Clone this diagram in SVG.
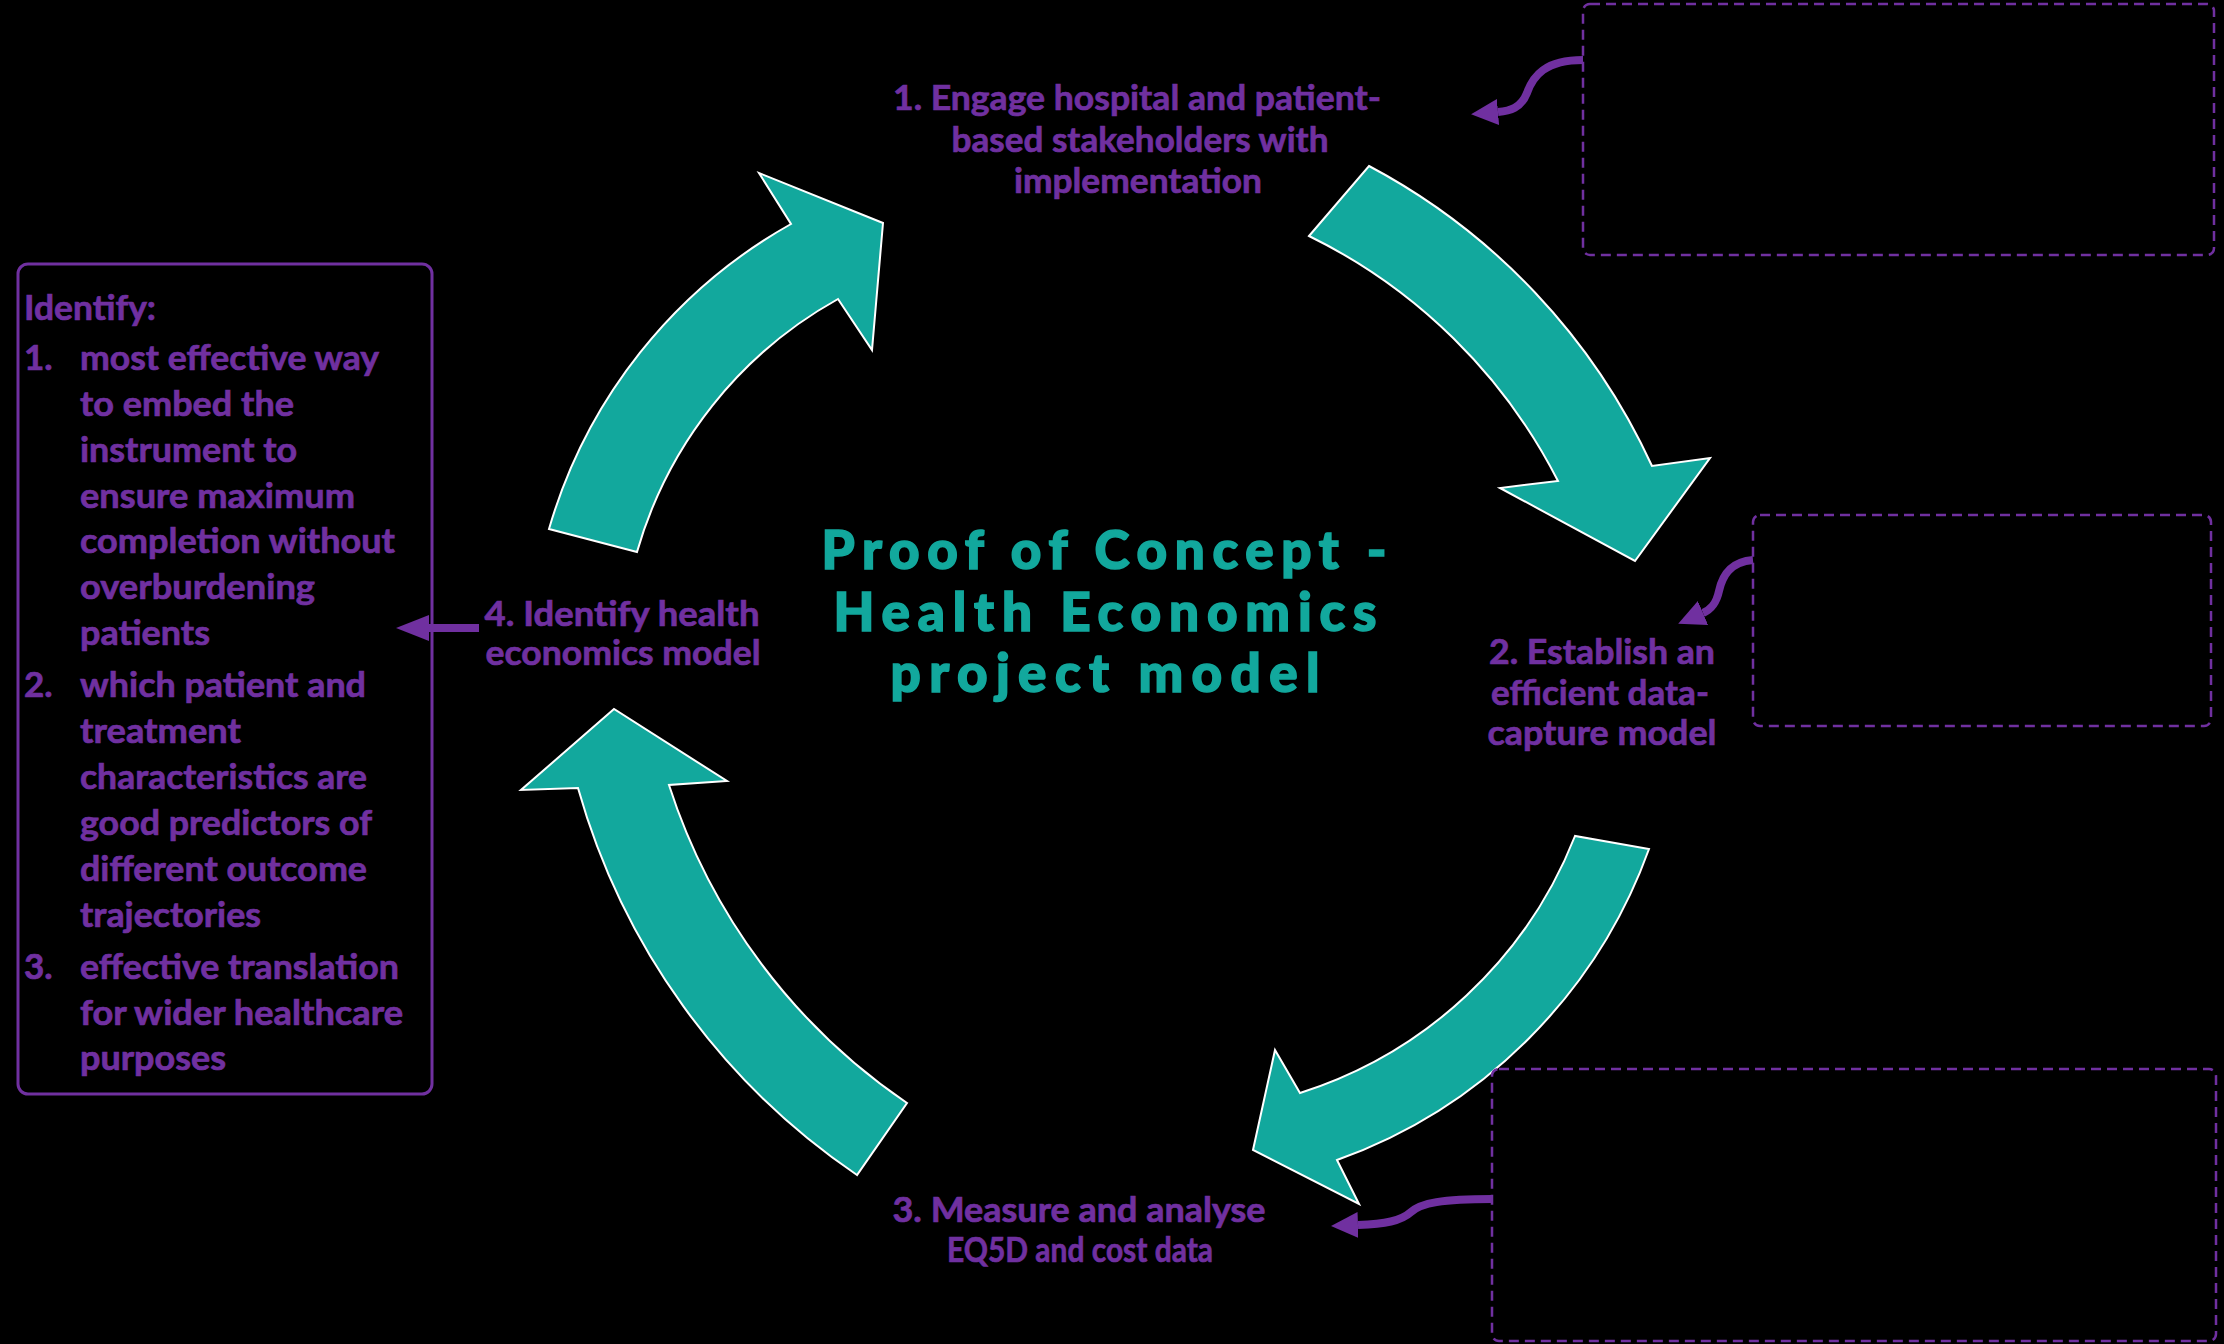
<svg xmlns="http://www.w3.org/2000/svg" width="2224" height="1344" viewBox="0 0 2224 1344">
<style>
.bg{fill:#000}
.lbl{font-family:Lato,"Liberation Sans",sans-serif;font-weight:700;font-size:35px;fill:#7030A0;stroke:#7030A0;stroke-width:0.7}
.title{font-family:Lato,"Liberation Sans",sans-serif;font-weight:900;font-size:53px;fill:#12A89D;stroke:#12A89D;stroke-width:1.6}
.ring{fill:#12A89D;stroke:#ffffff;stroke-width:2;stroke-linejoin:miter}
.dash{fill:none;stroke:#7030A0;stroke-width:2.5;stroke-dasharray:10 6}
.solid{fill:none;stroke:#7030A0;stroke-width:3}
.conn{fill:none;stroke:#7030A0;stroke-width:8}
</style>
<defs>
<marker id="head" markerUnits="userSpaceOnUse" markerWidth="28" markerHeight="26" refX="0" refY="13" orient="auto">
<path d="M0,0 L27,13 L0,26 z" fill="#7030A0"/>
</marker>
<marker id="headL" markerUnits="userSpaceOnUse" markerWidth="34" markerHeight="26" refX="0" refY="13" orient="auto">
<path d="M0,0 L33,13 L0,26 z" fill="#7030A0"/>
</marker>
</defs>
<rect class="bg" x="0" y="0" width="2224" height="1344"/>

<g id="arrow1">
<path class="ring" d="M549,529 A514,514 0 0 1 791,224 L759,173 L883,223 L872,350 L838,299 A423,423 0 0 0 637,552 Z"/>
</g>
<g id="arrow2">
<path class="ring" d="M1369,166 A643,643 0 0 1 1652,466 L1710,458 L1635,561 L1500,488 L1558,481 A552,552 0 0 0 1309,236 Z"/>
</g>
<g id="arrow3">
<path class="ring" d="M1649,849 A516,516 0 0 1 1337,1160 L1359,1204 L1253,1150 L1275,1050 L1300,1093 A438,438 0 0 0 1575,836 Z"/>
</g>
<g id="arrow4">
<path class="ring" d="M857,1175 A695,695 0 0 1 578,788 L521,790 L614,709 L727,781 L669,785 A610,610 0 0 0 907,1103 Z"/>
</g>

<g id="title">
<text class="title" text-anchor="middle" x="1104" y="569" textLength="565" lengthAdjust="spacing">Proof of Concept -</text>
<text class="title" text-anchor="middle" x="1105" y="631" textLength="543" lengthAdjust="spacing">Health Economics</text>
<text class="title" text-anchor="middle" x="1105" y="692" textLength="429" lengthAdjust="spacing">project model</text>
</g>

<g id="label1">
<text class="lbl" text-anchor="middle" x="1137" y="110" textLength="488" lengthAdjust="spacingAndGlyphs">1. Engage hospital and patient-</text>
<text class="lbl" text-anchor="middle" x="1140" y="152" textLength="377" lengthAdjust="spacingAndGlyphs">based stakeholders with</text>
<text class="lbl" text-anchor="middle" x="1138" y="193" textLength="248" lengthAdjust="spacingAndGlyphs">implementation</text>
</g>
<g id="label2">
<text class="lbl" text-anchor="middle" x="1602" y="664" textLength="226" lengthAdjust="spacingAndGlyphs">2. Establish an</text>
<text class="lbl" text-anchor="middle" x="1600" y="705" textLength="218" lengthAdjust="spacingAndGlyphs">efficient data-</text>
<text class="lbl" text-anchor="middle" x="1602" y="745" textLength="229" lengthAdjust="spacingAndGlyphs">capture model</text>
</g>
<g id="label3">
<text class="lbl" text-anchor="middle" x="1079" y="1222" textLength="373" lengthAdjust="spacingAndGlyphs">3. Measure and analyse</text>
<text class="lbl" text-anchor="middle" x="1080" y="1262" textLength="266" lengthAdjust="spacingAndGlyphs">EQ5D and cost data</text>
</g>
<g id="label4">
<text class="lbl" text-anchor="middle" x="622" y="626" textLength="275" lengthAdjust="spacingAndGlyphs">4. Identify health</text>
<text class="lbl" text-anchor="middle" x="623" y="665" textLength="275" lengthAdjust="spacingAndGlyphs">economics model</text>
</g>

<g id="box-identify">
<rect class="solid" x="18" y="264" width="414" height="830" rx="10" ry="10"/>
<text class="lbl" x="24" y="320" textLength="132" lengthAdjust="spacingAndGlyphs">Identify:</text>
<text class="lbl" x="24" y="370">1.</text>
<text class="lbl" x="80" y="370" textLength="299" lengthAdjust="spacingAndGlyphs">most effective way</text>
<text class="lbl" x="80" y="416" textLength="214" lengthAdjust="spacingAndGlyphs">to embed the</text>
<text class="lbl" x="80" y="462" textLength="217" lengthAdjust="spacingAndGlyphs">instrument to</text>
<text class="lbl" x="80" y="508" textLength="275" lengthAdjust="spacingAndGlyphs">ensure maximum</text>
<text class="lbl" x="80" y="553" textLength="315" lengthAdjust="spacingAndGlyphs">completion without</text>
<text class="lbl" x="80" y="599" textLength="235" lengthAdjust="spacingAndGlyphs">overburdening</text>
<text class="lbl" x="80" y="645" textLength="130" lengthAdjust="spacingAndGlyphs">patients</text>
<text class="lbl" x="24" y="697">2.</text>
<text class="lbl" x="80" y="697" textLength="286" lengthAdjust="spacingAndGlyphs">which patient and</text>
<text class="lbl" x="80" y="743" textLength="161" lengthAdjust="spacingAndGlyphs">treatment</text>
<text class="lbl" x="80" y="789" textLength="287" lengthAdjust="spacingAndGlyphs">characteristics are</text>
<text class="lbl" x="80" y="835" textLength="292" lengthAdjust="spacingAndGlyphs">good predictors of</text>
<text class="lbl" x="80" y="881" textLength="287" lengthAdjust="spacingAndGlyphs">different outcome</text>
<text class="lbl" x="80" y="927" textLength="181" lengthAdjust="spacingAndGlyphs">trajectories</text>
<text class="lbl" x="24" y="979">3.</text>
<text class="lbl" x="80" y="979" textLength="319" lengthAdjust="spacingAndGlyphs">effective translation</text>
<text class="lbl" x="80" y="1025" textLength="323" lengthAdjust="spacingAndGlyphs">for wider healthcare</text>
<text class="lbl" x="80" y="1070" textLength="146" lengthAdjust="spacingAndGlyphs">purposes</text>
</g>

<g id="box-top-right">
<rect class="dash" x="1583" y="4" width="631" height="251" rx="7" ry="7"/>
</g>
<g id="box-mid-right">
<rect class="dash" x="1753" y="515" width="458" height="211" rx="7" ry="7"/>
</g>
<g id="box-bottom-right">
<rect class="dash" x="1492" y="1069" width="724" height="272" rx="7" ry="7"/>
</g>

<g id="connectors">
<path class="conn" marker-end="url(#head)" d="M1583,60 C1545,60 1533,76 1527,93 C1521,108 1510,111 1498,112"/>
<path class="conn" marker-end="url(#head)" d="M1753,560 C1729,562 1722,577 1719,591 C1716,605 1710,610 1703,613"/>
<path class="conn" marker-end="url(#head)" d="M1492,1199 C1442,1199 1421,1203 1411,1212 C1401,1221 1385,1224 1358,1225"/>
<path class="conn" marker-end="url(#headL)" d="M479,628 L429,628"/>
</g>
</svg>
